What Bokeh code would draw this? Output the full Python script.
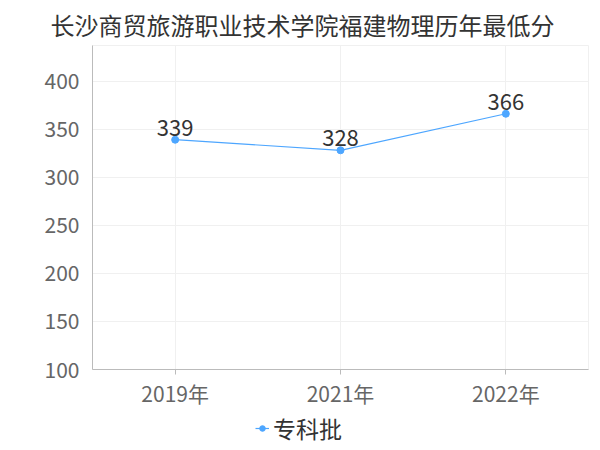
from bokeh.plotting import figure
from bokeh.layouts import column
from bokeh.models import ColumnDataSource, Range1d, FactorRange, SingleIntervalTicker, LabelSet, Legend, LegendItem
from bokeh.core.properties import value
from bokeh.embed import file_html
from bokeh.resources import INLINE

title = "长沙商贸旅游职业技术学院福建物理历年最低分"
years = ["2019年", "2021年", "2022年"]
scores = [339, 328, 366]
series_name = "专科批"

FONT = "Noto Sans CJK SC"
COLOR = "#4da6ff"

src = ColumnDataSource(dict(x=years, y=scores, label=[str(v) for v in scores]))

p = figure(width=592, height=410, x_range=FactorRange(*years), y_range=Range1d(100, 437),
           output_backend="svg", toolbar_location=None,
           min_border_left=92, min_border_right=4, min_border_top=44, min_border_bottom=41)

p.title.text = title
p.title.align = "left"
p.title.offset = -42
p.title.standoff = 8
p.title.text_font = FONT
p.title.text_font_size = "24px"
p.title.text_font_style = "normal"
p.title.text_color = "#333333"

line = p.line("x", "y", source=src, line_color=COLOR, line_width=1.2)
pts = p.scatter("x", "y", source=src, size=7, fill_color=COLOR, line_color=COLOR)

labels = LabelSet(x="x", y="y", text="label", source=src, y_offset=4,
                  text_align="center", text_baseline="alphabetic",
                  text_font_size="22px", text_color="#333333", text_font=value(FONT))
p.add_layout(labels)

p.yaxis.ticker = SingleIntervalTicker(interval=50)
for ax in (p.xaxis[0], p.yaxis[0]):
    ax.major_label_text_font = FONT
    ax.major_label_text_font_size = "21px"
    ax.major_label_text_color = "#666666"
    ax.axis_line_color = "#bbbbbb"
    ax.major_tick_line_color = "#bbbbbb"
    ax.minor_tick_line_color = None
p.yaxis.major_tick_out = 0
p.yaxis.major_tick_in = 0
p.yaxis.major_label_standoff = 9
p.xaxis.major_tick_out = 5
p.xaxis.major_tick_in = 0
p.xaxis.major_label_standoff = 3

p.xgrid.grid_line_color = "#f0f0f0"
p.ygrid.grid_line_color = "#f0f0f0"
p.outline_line_color = "#f0f0f0"

# legend strip below the chart
lg = figure(width=592, height=38, x_range=Range1d(0, 1), y_range=Range1d(0, 1),
            output_backend="svg", toolbar_location=None, min_border=0)
lg.axis.visible = False
lg.grid.visible = False
lg.outline_line_color = None
l_line = lg.line(x=[5, 6], y=[5, 5], line_color=COLOR, line_width=1.2)
l_pts = lg.scatter(x=[5], y=[5], size=7, fill_color=COLOR, line_color=COLOR)
legend = Legend(items=[LegendItem(label=series_name, renderers=[l_line, l_pts])],
                orientation="horizontal", location=(163, 3),
                label_text_font=FONT, label_text_font_size="23px", label_text_color="#333333",
                border_line_color=None, background_fill_alpha=0,
                glyph_width=14, label_standoff=4, margin=0, padding=4)
lg.add_layout(legend)

layout = column(p, lg, spacing=0)
open("out.html", "w").write(file_html(layout, INLINE))
